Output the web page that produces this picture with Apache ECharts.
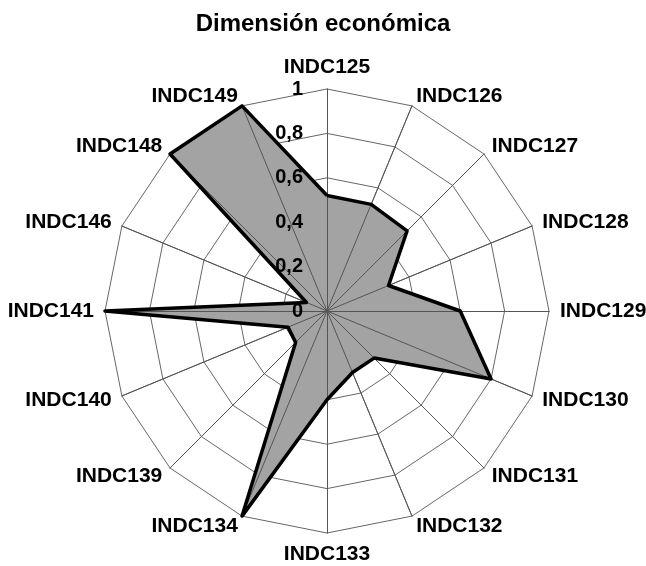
<!DOCTYPE html>
<html><head><meta charset="utf-8">
<script src="https://cdn.jsdelivr.net/npm/echarts@6/dist/echarts.min.js"></script>
<style>html,body{margin:0;padding:0;background:#fff}#c{width:646px;height:566px}</style>
</head><body><div id="c"></div>
<script>
const titleText = 'Dimensión económica';
// clockwise from top
const categories = ['INDC125','INDC126','INDC127','INDC128','INDC129','INDC130','INDC131','INDC132','INDC133','INDC134','INDC139','INDC140','INDC141','INDC146','INDC148','INDC149'];
const values = [0.52, 0.52, 0.51, 0.30, 0.60, 0.80, 0.30, 0.30, 0.40, 1.0, 0.20, 0.19, 1.0, 0.10, 1.0, 1.0];
const tickValues = [0, 0.2, 0.4, 0.6, 0.8, 1];

// ECharts radar runs counter-clockwise: reorder so the chart reads clockwise
const order = [0];
for (let i = categories.length - 1; i >= 1; i--) order.push(i);
const indicator = order.map(i => ({ name: categories[i], min: 0, max: 1 }));
const data = order.map(i => values[i]);

const center = [327, 311];
const R = 222;
const font = 'Liberation Sans, Arial, sans-serif';

const chart = echarts.init(document.getElementById('c'), null, { renderer: 'canvas' });
chart.setOption({
  animation: false,
  backgroundColor: '#fff',
  title: {
    text: titleText, left: 'center', top: 7,
    textStyle: { fontFamily: font, fontWeight: 'bold', fontSize: 24, color: '#000' }
  },
  radar: [
    {
      center: center, radius: R, startAngle: 90, shape: 'polygon', splitNumber: 5,
      indicator: indicator,
      axisName: { color: '#000', fontFamily: font, fontWeight: 'bold', fontSize: 21 },
      nameGap: 11,
      splitLine: { lineStyle: { color: '#666', width: 1 } },
      splitArea: { show: false },
      axisLine: { lineStyle: { color: '#666', width: 1 } },
      axisTick: { show: false },
      axisLabel: { show: false },
      z: 0
    },
    {
      center: center, radius: R, startAngle: 90, shape: 'polygon', splitNumber: 5,
      indicator: indicator.map(d => ({ name: '', min: 0, max: 1 })),
      axisName: { show: false },
      splitLine: { show: false },
      splitArea: { show: false },
      axisLine: { lineStyle: { color: '#555', width: 1 } },
      axisTick: { show: false },
      axisLabel: { show: false },
      z: 3
    }
  ],
  polar: { center: center, radius: R },
  angleAxis: { type: 'value', startAngle: 90, show: false, min: 0, max: 360 },
  radiusAxis: {
    type: 'value', min: 0, max: 1, interval: 0.2,
    axisLine: { show: false }, axisTick: { show: false }, splitLine: { show: false },
    axisLabel: {
      show: true, margin: 24, color: '#000', fontFamily: font, fontWeight: 'bold', fontSize: 20,
      verticalAlign: 'middle', padding: [5, 0, 0, 0],
      formatter: v => String(Math.round(v * 10) / 10).replace('.', ',')
    },
    z: 5
  },
  series: [
    {
      type: 'radar', radarIndex: 0, z: 2, symbol: 'none',
      lineStyle: { width: 0, opacity: 0 },
      areaStyle: { color: '#a3a3a3', opacity: 1 },
      data: [{ value: data }]
    },
    {
      type: 'radar', radarIndex: 0, z: 4, symbol: 'none',
      lineStyle: { color: '#000', width: 3.5 },
      data: [{ value: data }]
    }
  ]
});
</script></body></html>
